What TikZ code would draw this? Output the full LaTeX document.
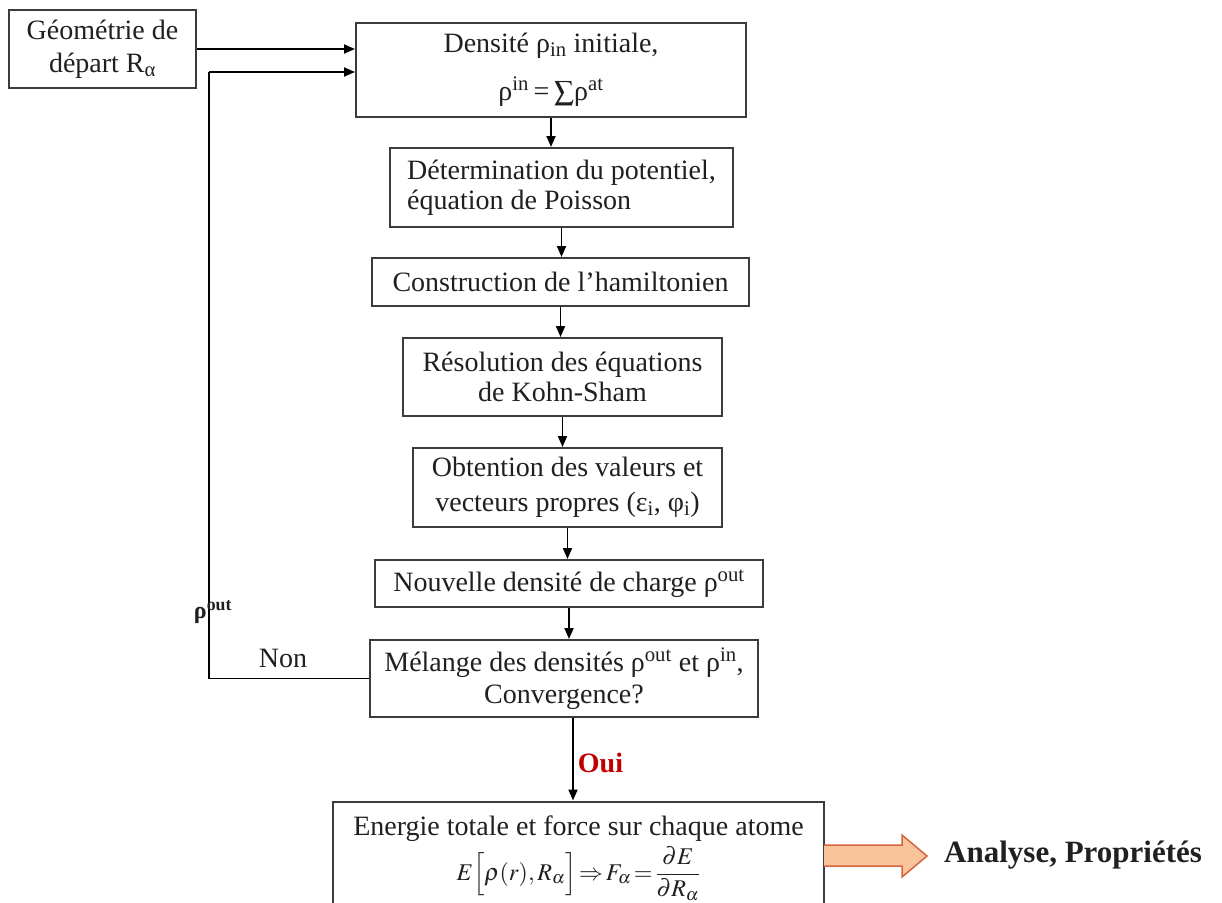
\documentclass[tikz,border=0pt]{standalone}
\usepackage{mathptmx}
\usepackage{fontspec}
\setmainfont{Liberation Serif}
\usetikzlibrary{arrows.meta,calc}

\definecolor{boxline}{HTML}{3C3C3C}
\definecolor{ink}{HTML}{202020}
\definecolor{ouired}{HTML}{C00000}
\definecolor{fatfill}{HTML}{FAC49A}
\definecolor{fatline}{HTML}{D8643E}

\begin{document}
\begin{tikzpicture}[x=1pt,y=-1pt,
  stepbox/.style={draw=boxline, line width=2pt, fill=white, text=ink,
    inner sep=2pt, align=center,
    font=\fontsize{28}{33}\selectfont},
  flow/.style={draw=black, line width=1.9pt,
    -{Triangle[length=11pt,width=9pt]}},
  plain/.style={draw=black, line width=1.9pt},
  label/.style={text=ink, inner sep=0pt, font=\fontsize{28}{33}\selectfont}]

\useasboundingbox (0,0) rectangle (1222,902);

% process boxes
\node[stepbox, minimum width=187, minimum height=78] (geo) at (102.5,49)
  {Géométrie de\\départ R\textsubscript{α}};
\node[stepbox, minimum width=390, minimum height=94,
  font=\fontsize{28}{48}\selectfont] (dens) at (551,70)
  {Densité ρ\textsubscript{in} initiale,\\ρ\textsuperscript{in}\,=\,$\sum$ρ\textsuperscript{at}};
\node[stepbox, minimum width=343, minimum height=79, align=left,
  font=\fontsize{28}{30}\selectfont] (det) at (561.5,187.5)
  {Détermination du potentiel,\\équation de Poisson};
\node[stepbox, minimum width=377, minimum height=48] (cons) at (560.5,282)
  {Construction de l’hamiltonien};
\node[stepbox, minimum width=319, minimum height=78,
  font=\fontsize{28}{30}\selectfont] (res) at (562.5,377)
  {Résolution des équations\\de Kohn-Sham};
\node[stepbox, minimum width=309, minimum height=79,
  font=\fontsize{28}{35}\selectfont] (obt) at (567.5,487.5)
  {Obtention des valeurs et\\vecteurs propres (ε\textsubscript{i}, φ\textsubscript{i})};
\node[stepbox, minimum width=388, minimum height=47] (nouv) at (569,583.5)
  {Nouvelle densité de charge ρ\textsuperscript{out}};
\node[stepbox, minimum width=388, minimum height=77,
  font=\fontsize{28}{32}\selectfont] (mel) at (564,678.5)
  {Mélange des densités ρ\textsuperscript{out} et ρ\textsuperscript{in},\\Convergence?};
\node[stepbox, minimum width=491, minimum height=113,
  font=\fontsize{28}{30}\selectfont] (en) at (578.5,858)
  {Energie totale et force sur chaque atome\\[4pt]
   {\fontsize{24}{30}\selectfont
   $E\Bigl[\rho(r),R_\alpha\Bigr]\!\Rightarrow\! F_\alpha\!=\!\displaystyle\frac{\partial E}{\partial R_\alpha}$}};

% outcome text
\node[label, font=\fontsize{31}{36}\selectfont\bfseries, anchor=west] (ana) at (944,855)
  {Analyse, Propriétés};

% main flow
\draw[flow] (geo.east) -- (geo.east -| dens.west);
\draw[flow] (dens.south) -- (dens.south |- det.north);
\draw[flow] (det.south) -- (det.south |- cons.north);
\draw[flow] (cons.south) -- (cons.south |- res.north);
\draw[flow] (res.south) -- (res.south |- obt.north);
\draw[flow] (obt.south) -- (obt.south |- nouv.north);
\draw[flow] (nouv.south) -- (nouv.south |- mel.north);
\coordinate (ouitop) at ($(mel.south)+(9,0)$);
\draw[flow] (ouitop) -- (ouitop |- en.north)
  node[pos=0.55, right=4pt, text=ouired, inner sep=0pt,
       font=\fontsize{28}{33}\selectfont\bfseries] {Oui};

% feedback loop
\coordinate (loop) at (209,72);
\draw[plain] (mel.west) -| (loop);
\draw[flow] (loop) -- (loop -| dens.west);
\node[label] (non) at (283,658) {Non};
\node[label, font=\fontsize{24}{28}\selectfont\bfseries] (rhoout) at (213,612)
  {ρ\textsuperscript{out}};

% broad arrow towards the analysis
\coordinate (fa) at (824,845);
\fill[fatfill] (fa) -- (902,845) -- (902,835) -- (927,856) -- (902,877)
  -- (902,866) -- (824,866) -- cycle;
\draw[fatline, line width=1.5pt, line join=miter] (fa) -- (902,845) -- (902,835)
  -- (927,856) -- (902,877) -- (902,866) -- (824,866);
\end{tikzpicture}
\end{document}
